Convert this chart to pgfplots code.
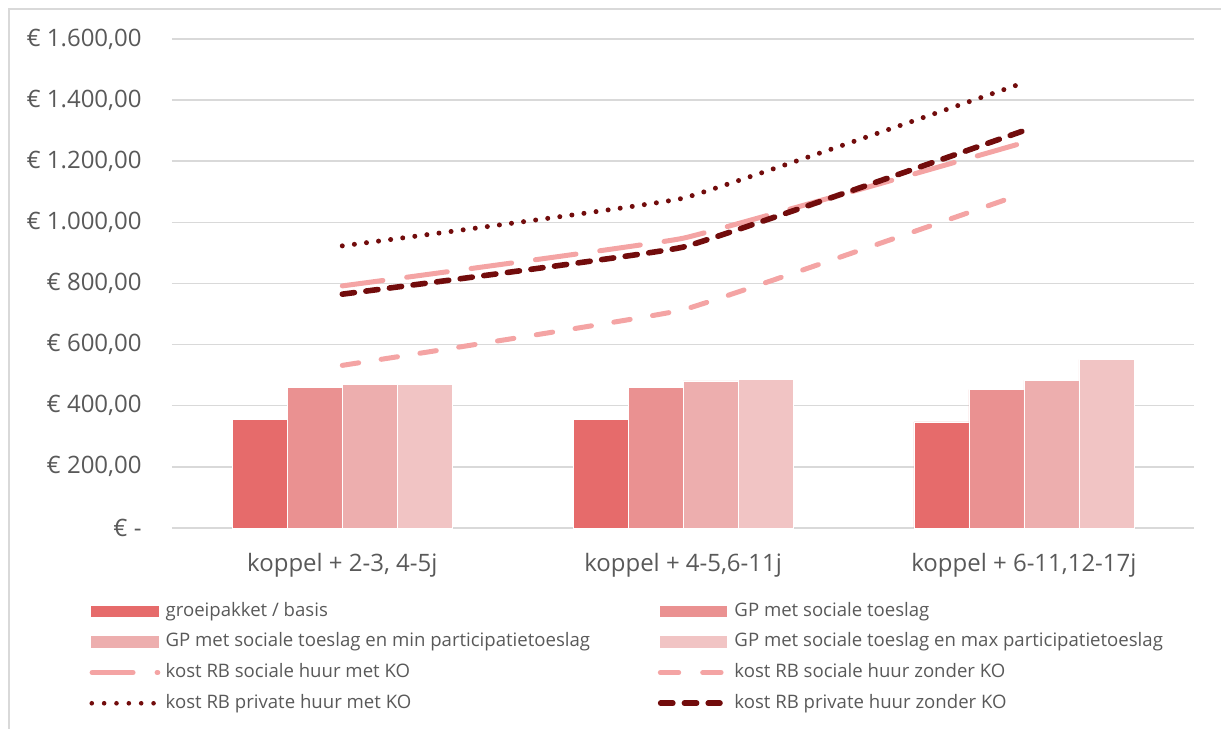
\documentclass[border=0pt]{standalone}
\usepackage{pgfplots}
\pgfplotsset{compat=1.18}
\usepackage{pgfplotstable}
\usepackage{fontspec}
\setmainfont{Open Sans}

\definecolor{barA}{HTML}{E66B6B}
\definecolor{barB}{HTML}{EA9191}
\definecolor{barC}{HTML}{EDAEAE}
\definecolor{barD}{HTML}{F1C4C4}
\definecolor{pinkline}{HTML}{F4A4A4}
\definecolor{darkline}{HTML}{720C0C}
\definecolor{gridgray}{HTML}{D9D9D9}
\definecolor{txt}{HTML}{595959}

% monthly amounts per household type
\pgfplotstableread{
x basis sociaal minpart maxpart socmet soczonder privmet privzonder
0 354 460 470 470 792 532 923 765
1 355 461 481 487 948 714 1079 919
2 347 453 483 551 1261 1095 1457 1300
}\bedragen

% fixed-size cell for legend swatches
\newcommand{\swatchbox}{\path[draw=none, fill=none] (-0.7pt,-3pt) rectangle (37.5pt,3pt);}

\begin{document}
\begin{tikzpicture}
% page frame
\path (0pt,0pt) rectangle (611pt,364.5pt);
\draw[gridgray, line width=0.75pt] (4.5pt,0pt) -- (4.5pt,360pt) -- (611pt,360pt);

\begin{axis}[
  at={(86pt,100.35pt)}, anchor=south west,
  scale only axis,
  width=511.5pt, height=244.65pt,
  xmin=-0.5, xmax=2.5,
  ymin=0, ymax=1600,
  xtick={0,1,2},
  xticklabels={{koppel + 2-3, 4-5j},{koppel + 4-5,6-11j},{koppel + 6-11,12-17j}},
  ytick={0,200,...,1600},
  yticklabels={{€ -\hspace{6pt}},{€ 200,00},{€ 400,00},{€ 600,00},{€ 800,00},{€ 1.000,00},{€ 1.200,00},{€ 1.400,00},{€ 1.600,00}},
  ymajorgrids,
  grid style={gridgray, line width=0.75pt},
  major tick length=0pt,
  axis x line*=bottom, axis y line*=left,
  x axis line style={gridgray, line width=0.75pt},
  y axis line style={draw=none},
  tick label style={font=\fontsize{12}{14}\selectfont, text=txt},
  yticklabel style={inner sep=0pt, anchor=east, xshift=-15pt},
  xticklabel style={inner sep=0pt, anchor=north, yshift=-12.3pt},
  clip=false,
  legend columns=2,
  legend cell align=left,
  legend style={
    at={(axis description cs:-0.0808,-0.1527)}, anchor=north west,
    draw=none, fill=none, inner sep=0pt, outer sep=0pt,
    row sep=6.75pt, column sep=0pt,
    font=\fontsize{9.3}{11}\selectfont, text=txt,
    nodes={inner sep=0pt, anchor=west, text height=6.7pt, text depth=1.9pt},
  },
]

% bars
\addplot[ybar, bar width=0.1613, bar shift=-0.242, fill=barA, draw=white, line width=0.3pt,
  legend image code/.code={\swatchbox \fill[barA, draw=none] (0pt,-2.85pt) rectangle (33.95pt,2.85pt);}]
  table[x=x, y=basis] {\bedragen};
\addlegendentry{\makebox[246.25pt][l]{groeipakket / basis}}

\addplot[ybar, bar width=0.1613, bar shift=-0.0806, fill=barB, draw=white, line width=0.3pt,
  legend image code/.code={\swatchbox \fill[barB, draw=none] (0pt,-2.85pt) rectangle (33.95pt,2.85pt);}]
  table[x=x, y=sociaal] {\bedragen};
\addlegendentry{GP met sociale toeslag}

\addplot[ybar, bar width=0.1613, bar shift=0.0806, fill=barC, draw=white, line width=0.3pt,
  legend image code/.code={\swatchbox \fill[barC, draw=none] (0pt,-2.85pt) rectangle (33.95pt,2.85pt);}]
  table[x=x, y=minpart] {\bedragen};
\addlegendentry{\makebox[246.25pt][l]{GP met sociale toeslag en min participatietoeslag}}

\addplot[ybar, bar width=0.1613, bar shift=0.242, fill=barD, draw=white, line width=0.3pt,
  legend image code/.code={\swatchbox \fill[barD, draw=none] (0pt,-2.85pt) rectangle (33.95pt,2.85pt);}]
  table[x=x, y=maxpart] {\bedragen};
\addlegendentry{GP met sociale toeslag en max participatietoeslag}

% cost lines
\addplot[pinkline, line width=2.5pt, line cap=round, smooth, tension=0.15,
  dash pattern=on 20.5pt off 12pt, mark=none,
  legend image code/.code={\swatchbox \draw[pinkline, line width=2.5pt, line cap=round, dash pattern=on 20.5pt off 12pt] (0.7pt,0pt) -- (33.6pt,0pt);}]
  table[x=x, y=socmet] {\bedragen};
\addlegendentry{\makebox[246.25pt][l]{kost RB sociale huur met KO}}

\addplot[pinkline, line width=2.5pt, line cap=round, smooth, tension=0.15,
  dash pattern=on 8.3pt off 11.35pt, mark=none,
  legend image code/.code={\swatchbox \draw[pinkline, line width=2.5pt, line cap=round, dash pattern=on 9.2pt off 12pt] (0.4pt,0pt) -- (30.9pt,0pt);}]
  table[x=x, y=soczonder] {\bedragen};
\addlegendentry{kost RB sociale huur zonder KO}

\addplot[darkline, line width=2.5pt, line cap=round, smooth, tension=0.15,
  dash pattern=on 0pt off 6.1pt, mark=none,
  legend image code/.code={\swatchbox \draw[darkline, line width=2.3pt, line cap=round, dash pattern=on 0pt off 6.18pt] (0.55pt,0pt) -- (31.5pt,0pt);}]
  table[x=x, y=privmet] {\bedragen};
\addlegendentry{\makebox[246.25pt][l]{kost RB private huur met KO}}

\addplot[darkline, line width=2.8pt, line cap=round, smooth, tension=0.15,
  dash pattern=on 6.1pt off 5.8pt, mark=none,
  legend image code/.code={\swatchbox \draw[darkline, line width=2.8pt, line cap=round, dash pattern=on 6.1pt off 5.8pt] (0.55pt,0pt) -- (30.25pt,0pt);}]
  table[x=x, y=privzonder] {\bedragen};
\addlegendentry{kost RB private huur zonder KO}

\end{axis}
\end{tikzpicture}
\end{document}
